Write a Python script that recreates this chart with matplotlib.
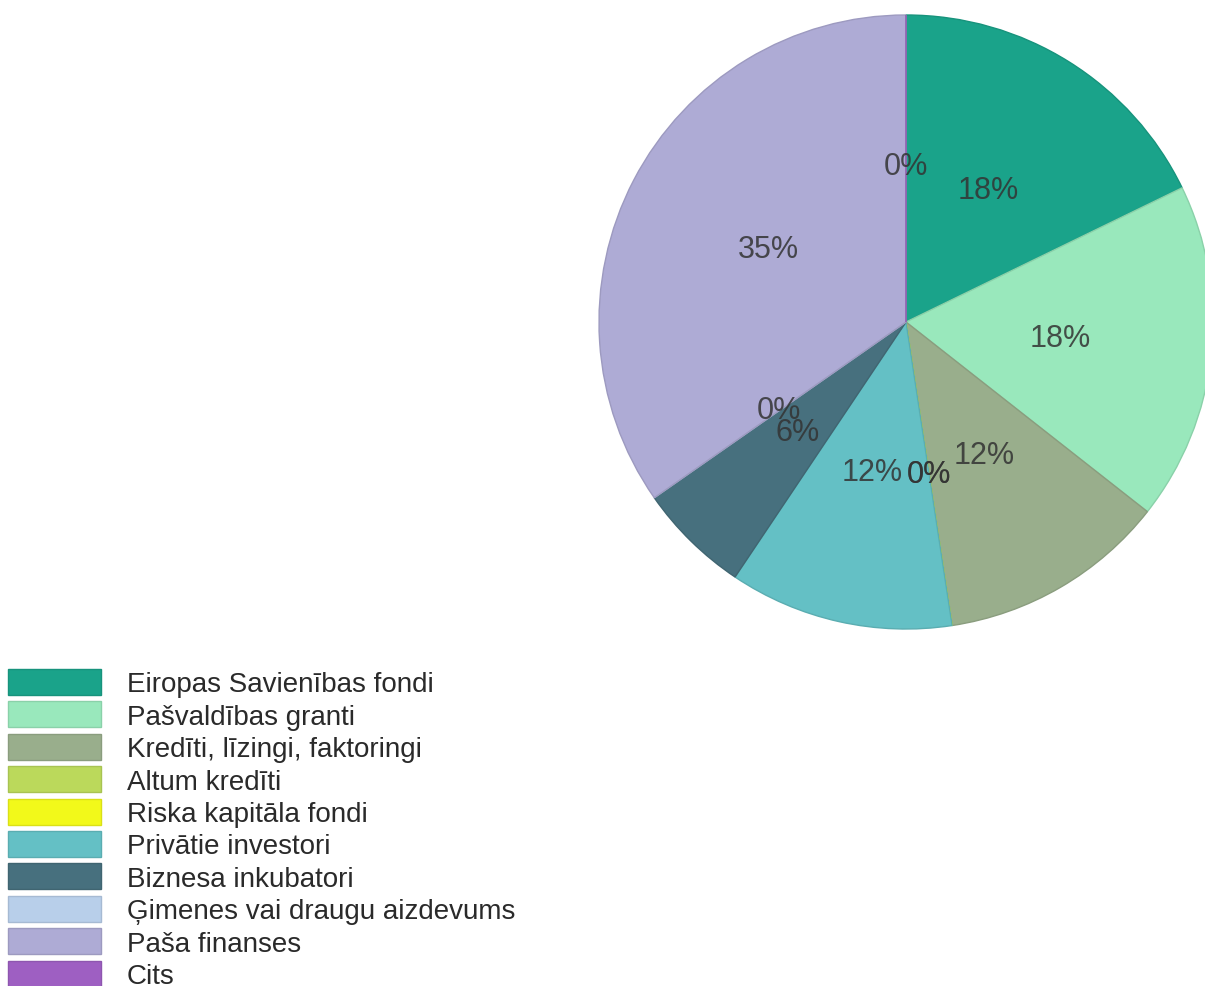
import matplotlib.pyplot as plt
import matplotlib.colors as mcolors
from matplotlib.patches import Rectangle

plt.rcParams['font.family'] = ['Liberation Sans', 'DejaVu Sans']

# share of answers per funding source, %
labels = [
    "Eiropas Savienības fondi",
    "Pašvaldības granti",
    "Kredīti, līzingi, faktoringi",
    "Altum kredīti",
    "Riska kapitāla fondi",
    "Privātie investori",
    "Biznesa inkubatori",
    "Ģimenes vai draugu aizdevums",
    "Paša finanses",
    "Cits",
]
shares = [17.8, 17.8, 12.0, 0, 0, 11.8, 5.9, 0, 34.7, 0]
colors = ["#1aa38a", "#99e8bc", "#99ae8c", "#bbd95b", "#f2f91a",
          "#64c0c5", "#47707e", "#b8cfea", "#aeabd5", "#9e5fc2"]

W, H = 1205, 986
fig = plt.figure(figsize=(W / 100, H / 100), dpi=100)

# pie: centre (906, 322) px, radius 307 px
cx, cy, r = 906, 322, 307
ax = fig.add_axes([(cx - r) / W, (H - cy - r) / H, 2 * r / W, 2 * r / H])

edge = [tuple(c * 0.9 for c in mcolors.to_rgb(col)) for col in colors]
wedges, texts, autotexts = ax.pie(
    shares, colors=colors, startangle=90, counterclock=False,
    autopct=lambda p: f"{p:.0f}%", pctdistance=0.505,
    wedgeprops=dict(linewidth=1.0),
    textprops=dict(fontsize=22, color="#333333", alpha=0.85),
)
for w, e in zip(wedges, edge):
    w.set_edgecolor(e)
ax.set_xlim(-1, 1)
ax.set_ylim(-1, 1)
ax.axis("off")

# legend, bottom left
lx, ly, bw, bh, pitch = 8, 669, 93, 26, 32.4
for i, (lab, col, e) in enumerate(zip(labels, colors, edge)):
    top = ly + i * pitch
    fig.patches.append(Rectangle((lx / W, (H - top - bh) / H), bw / W, bh / H,
                                 transform=fig.transFigure, facecolor=col,
                                 edgecolor=e, linewidth=1))
    fig.text(127 / W, (H - top - bh / 2 - 3.5) / H, lab, fontsize=20,
             color="#2a2a2a", va="center", ha="left")

fig.savefig("out.png", dpi=100)
